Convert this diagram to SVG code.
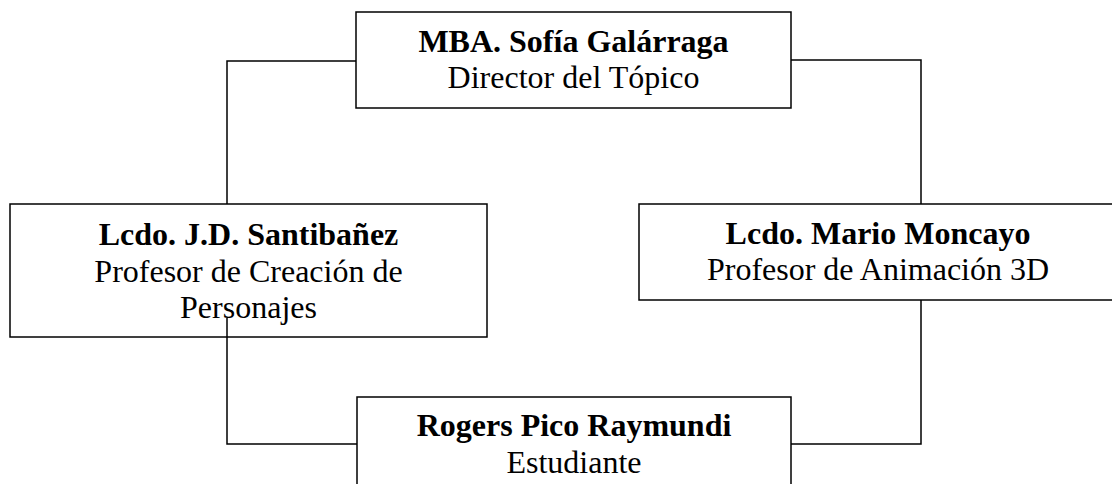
<svg xmlns="http://www.w3.org/2000/svg" width="1112" height="484" viewBox="0 0 1112 484">
<style>
.box{fill:#fff;stroke:#000;stroke-width:1.5}
.ln{fill:none;stroke:#000;stroke-width:1.5}
text{font-family:"Liberation Serif","Times New Roman",serif;font-size:32px;fill:#000;text-anchor:middle}
.b{font-weight:bold}
</style>
<rect width="1112" height="484" fill="#fff"/>
<g id="connectors">
<polyline class="ln" points="356,61 227,61 227,204"/>
<polyline class="ln" points="791,60 921,60 921,204"/>
<polyline class="ln" points="921,300 921,444 791,444"/>
</g>
<g id="n1"><rect class="box" x="356" y="12" width="435" height="96"/>
<text class="b" x="573.5" y="52">MBA. Sofía Galárraga</text>
<text x="573.5" y="88">Director del Tópico</text></g>
<g id="n2"><rect class="box" x="10" y="204" width="477" height="133"/>
<text class="b" x="248.5" y="245">Lcdo. J.D. Santibañez</text>
<text x="248.5" y="282">Profesor de Creación de</text>
<text x="248.5" y="318">Personajes</text></g>
<g id="n3"><rect class="box" x="639" y="204" width="478" height="96"/>
<text class="b" x="878" y="244">Lcdo. Mario Moncayo</text>
<text x="878" y="280">Profesor de Animación 3D</text></g>
<g id="n4"><rect class="box" x="357" y="397" width="434" height="100"/>
<text class="b" x="574" y="436">Rogers Pico Raymundi</text>
<text x="574" y="473">Estudiante</text></g>
<g id="connectors2">
<polyline class="ln" points="227,318 227,444 357,444"/>
</g>
</svg>
